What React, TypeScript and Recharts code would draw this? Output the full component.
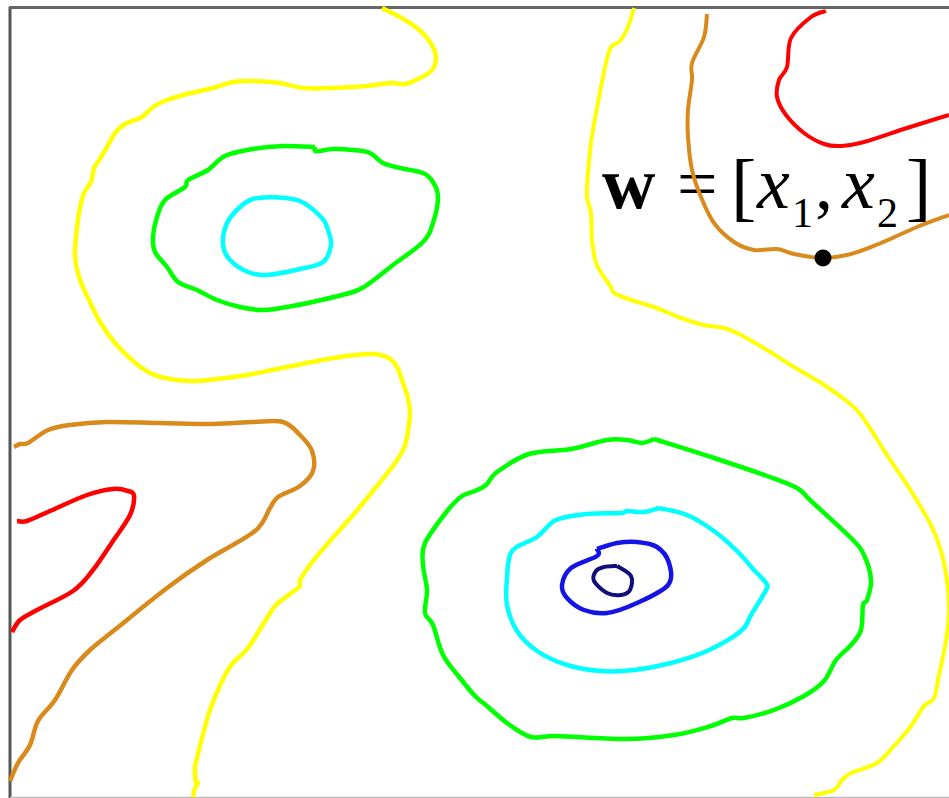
import { LineChart, Line, XAxis, YAxis, ReferenceLine, ReferenceDot } from "recharts";

type Pt = { x: number; y: number };
const pts = (raw: number[][]): Pt[] => raw.map(([x, y]) => ({ x, y }));

const yellowLeft = pts([[382,8],[400,17],[417,28],[430,42],[436,57],[432,70],[420,78],[405,84],[390,83],[367,86],[333,88],[303,88],[280,83],[253,81],[233,82],[213,88],[187,94],[167,100],[153,107],[142,117],[125,124],[115,133],[107,147],[98,162],[94,168],[91,182],[84,193],[79,213],[76,237],[75,257],[79,277],[88,298],[100,322],[115,343],[132,360],[150,373],[170,379],[193,381],[217,379],[247,375],[277,369],[317,361],[347,356],[370,354],[387,357],[397,367],[403,383],[408,398],[410,413],[408,431],[404,448],[395,463],[377,486],[353,515],[330,541],[313,561],[300,580],[299,587],[277,604],[267,618],[248,648],[232,664],[222,681],[210,710],[202,738],[197,758],[195,768],[196,783],[198,783],[195,788],[193,797]]);
const yellowRight = pts([[634,8],[628,27],[620,41],[611,47],[606,63],[601,87],[596,113],[591,143],[588,173],[587,197],[591,213],[592,240],[596,263],[604,277],[611,287],[614,293],[631,300],[654,307],[681,318],[704,325],[724,328],[741,335],[767,350],[794,367],[821,383],[844,399],[861,415],[887,455],[911,491],[931,525],[941,551],[947,581],[949,611],[946,641],[939,675],[934,698],[924,706],[911,726],[894,746],[877,763],[851,773],[842,780],[834,790],[814,795]]);
const orangeTop = pts([[707,14],[704,37],[692,63],[692,80],[688,110],[688,137],[692,170],[701,197],[714,223],[734,242],[754,250],[777,249],[794,254],[822,258],[851,254],[881,243],[917,227],[949,215]]);
const orangeLeft = pts([[14,447],[20,444],[28,443],[48,430],[70,425],[107,422],[160,423],[213,424],[253,422],[283,422],[300,435],[312,451],[313,471],[300,486],[278,497],[270,508],[255,531],[207,560],[167,588],[117,628],[90,650],[72,670],[55,700],[38,721],[30,745],[18,763],[10,781]]);
const redTop = pts([[826,11],[811,17],[791,38],[787,67],[779,80],[777,97],[786,115],[804,133],[824,144],[841,146],[864,142],[907,128],[949,115]]);
const redLeft = pts([[17,521],[27,521],[50,511],[87,495],[113,489],[128,491],[134,496],[130,515],[113,541],[93,570],[73,591],[37,610],[20,620],[12,632]]);
const greenUpper = pts([[315,147],[315,151],[320,151],[333,149],[353,150],[370,153],[383,163],[400,168],[423,173],[433,182],[438,197],[433,223],[423,242],[393,265],[367,285],[353,292],[317,301],[287,307],[263,310],[240,307],[217,300],[197,290],[178,282],[167,267],[155,252],[153,237],[157,217],[165,200],[185,187],[188,180],[208,170],[225,156],[253,149],[283,146],[315,147]]);
const greenLower = pts([[654,439],[714,458],[767,476],[797,488],[811,501],[851,538],[864,555],[871,580],[867,600],[863,605],[861,630],[851,645],[836,660],[824,681],[804,696],[774,710],[744,718],[732,718],[711,726],[674,735],[624,739],[557,736],[531,737],[507,723],[487,706],[475,696],[460,678],[443,655],[433,625],[425,613],[427,590],[423,565],[425,543],[448,510],[462,496],[475,491],[486,485],[497,472],[529,454],[571,449],[607,440],[627,440],[642,443],[654,439]]);
const cyanUpper = pts([[273,197],[300,201],[322,218],[328,230],[331,245],[323,262],[300,269],[267,275],[248,272],[230,260],[223,245],[227,223],[240,207],[253,199],[273,197]]);
const cyanLower = pts([[659,508],[687,515],[714,531],[737,551],[754,570],[766,583],[766,590],[751,615],[741,631],[707,651],[671,663],[634,670],[601,671],[567,665],[537,651],[517,631],[507,605],[507,578],[512,551],[537,537],[556,520],[587,514],[621,513],[627,511],[644,512],[659,508]]);
const blueRing = pts([[597,549],[617,543],[637,542],[657,547],[669,563],[668,585],[637,603],[607,613],[584,610],[567,598],[562,585],[571,568],[597,556],[597,549]]);
const navyRing = pts([[617,566],[631,576],[630,590],[621,595],[607,593],[594,581],[596,571],[604,567],[617,566]]);

const contours: [Pt[], string, number][] = [
  [yellowLeft, "#ffff00", 4.5],
  [yellowRight, "#ffff00", 4],
  [orangeTop, "#d98a1c", 4],
  [orangeLeft, "#d98a1c", 4.5],
  [redTop, "#ff0000", 4],
  [redLeft, "#ff0000", 4.5],
  [greenUpper, "#00ff00", 4.5],
  [greenLower, "#00ff00", 4.5],
  [cyanUpper, "#00ffff", 4.5],
  [cyanLower, "#00ffff", 4.5],
  [blueRing, "#1414e6", 4.5],
  [navyRing, "#10107a", 4],
];

// catmull-rom so the hand drawn lines stay smooth between the read points
const handCurve = (ctx: any) => {
  let p: number[][] = [];
  return {
    areaStart() {},
    areaEnd() {},
    lineStart() { p = []; },
    point(x: number, y: number) { p.push([+x, +y]); },
    lineEnd() {
      p.forEach(([x, y], i) => {
        if (i === 0) { ctx.moveTo(x, y); return; }
        const a = p[Math.max(i - 2, 0)], b = p[i - 1], d = p[Math.min(i + 1, p.length - 1)];
        ctx.bezierCurveTo(b[0] + (x - a[0]) / 6, b[1] + (y - a[1]) / 6, x - (d[0] - b[0]) / 6, y - (d[1] - b[1]) / 6, x, y);
      });
    },
  };
};

const serif = { fontFamily: "'Liberation Serif', 'Times New Roman', serif" };

export default function App() {
  return (
    <div style={{ position: "absolute", left: 0, top: 0, width: 949, height: 798, background: "#fff" }}>
      <LineChart width={949} height={798} margin={{ top: 0, right: 0, bottom: 0, left: 0 }}>
        <XAxis type="number" dataKey="x" domain={[0, 949]} hide />
        <YAxis type="number" dataKey="y" domain={[0, 798]} reversed hide />
        <ReferenceLine segment={[{ x: 10, y: 7 }, { x: 10, y: 798 }]} stroke="#555" strokeWidth={3} />
        <ReferenceLine segment={[{ x: 9, y: 7.5 }, { x: 949, y: 7.5 }]} stroke="#666" strokeWidth={3} />
        <ReferenceLine segment={[{ x: 10, y: 797.5 }, { x: 949, y: 797.5 }]} stroke="#bbb" strokeWidth={1.5} />
        {contours.map(([data, color, w], i) => (
          <Line key={i} data={data} dataKey="y" type={handCurve as any} stroke={color} strokeWidth={w} dot={false} activeDot={false} isAnimationActive={false} />
        ))}
        <ReferenceDot x={823} y={258} r={8.5} fill="#000" stroke="none" />
        <g fill="#000">
          <text x={602} y={208} fontSize={74} fontWeight="bold" style={serif}>w</text>
          <text x={677} y={208} fontSize={72} style={serif}>=</text>
          <text x={731} y={212} fontSize={76} style={serif}>[</text>
          <text x={757} y={208} fontSize={74} fontStyle="italic" style={serif}>x</text>
          <text x={792} y={227} fontSize={42} style={serif}>1</text>
          <text x={815} y={208} fontSize={72} style={serif}>,</text>
          <text x={842} y={208} fontSize={74} fontStyle="italic" style={serif}>x</text>
          <text x={877} y={227} fontSize={42} style={serif}>2</text>
          <text x={906} y={212} fontSize={76} style={serif}>]</text>
        </g>
      </LineChart>
    </div>
  );
}
